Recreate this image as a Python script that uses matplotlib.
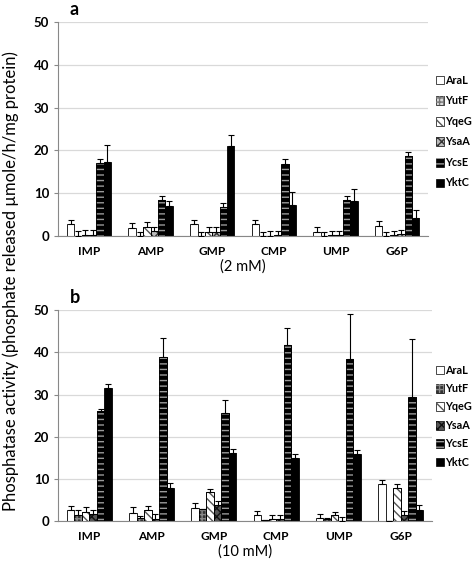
import numpy as np
import matplotlib.pyplot as plt

plt.rcParams['font.family'] = ['Lato', 'DejaVu Sans']

# data
substrates = ['IMP', 'AMP', 'GMP', 'CMP', 'UMP', 'G6P']
enzymes = ['AraL', 'YutF', 'YqeG', 'YsaA', 'YcsE', 'YktC']

# (2 mM)
a_AraL = [2.8, 1.8, 2.7, 2.7, 1.0, 2.4]
a_YutF = [0.1, 0.1, 0.1, 0.1, 0.1, 0.1]
a_YqeG = [0.3, 2.2, 1.0, 0.1, 0.2, 0.3]
a_YsaA = [0.3, 1.2, 1.0, 0.3, 0.2, 0.4]
a_YcsE = [17.0, 8.4, 6.7, 16.8, 8.5, 18.7]
a_YktC = [17.4, 7.1, 21.0, 7.3, 8.1, 4.3]
a_err_AraL = [1.0, 1.2, 1.1, 1.1, 1.0, 1.0]
a_err_YutF = [1.0, 0.9, 0.9, 0.9, 0.9, 0.9]
a_err_YqeG = [1.0, 1.1, 1.0, 1.0, 1.0, 0.9]
a_err_YsaA = [1.0, 0.9, 1.0, 0.9, 1.0, 1.0]
a_err_YcsE = [1.0, 1.0, 1.0, 1.2, 0.9, 1.0]
a_err_YktC = [3.9, 1.0, 2.7, 3.1, 3.0, 1.8]

# (10 mM)
b_AraL = [2.5, 2.0, 3.0, 1.3, 0.7, 8.8]
b_YutF = [1.5, 0.7, 2.8, 0.2, 0.4, 0.1]
b_YqeG = [2.2, 2.5, 6.8, 0.5, 1.3, 7.8]
b_YsaA = [1.6, 0.5, 3.8, 0.5, 0.1, 1.4]
b_YcsE = [26.2, 39.0, 25.6, 41.8, 38.4, 29.5]
b_YktC = [31.5, 7.8, 16.1, 14.9, 15.9, 2.6]
b_err_AraL = [1.0, 1.2, 1.2, 1.0, 1.0, 0.9]
b_err_YutF = [1.0, 0.5, 0.1, 0.0, 0.2, 0.0]
b_err_YqeG = [1.0, 1.0, 0.9, 0.9, 0.9, 0.9]
b_err_YsaA = [1.0, 1.1, 0.9, 0.9, 0.9, 0.9]
b_err_YcsE = [0.3, 4.3, 3.1, 4.0, 10.6, 13.6]
b_err_YktC = [0.9, 1.1, 0.9, 1.0, 0.9, 1.1]

vals_a = [a_AraL, a_YutF, a_YqeG, a_YsaA, a_YcsE, a_YktC]
errs_a = [a_err_AraL, a_err_YutF, a_err_YqeG, a_err_YsaA, a_err_YcsE, a_err_YktC]
vals_b = [b_AraL, b_YutF, b_YqeG, b_YsaA, b_YcsE, b_YktC]
errs_b = [b_err_AraL, b_err_YutF, b_err_YqeG, b_err_YsaA, b_err_YcsE, b_err_YktC]

# styles: (face, hatch, hatch colour)
styles_a = [('white', None, None),
            ('#d8d8d8', '++++', '#777777'),
            ('white', '\\\\\\\\', '#555555'),
            ('#bbbbbb', 'xxxx', '#333333'),
            ('black', '---', '#999999'),
            ('black', None, None)]
styles_b = [('white', None, None),
            ('#333333', '++++', '#888888'),
            ('white', '\\\\\\\\', '#555555'),
            ('#555555', 'xxxx', '#111111'),
            ('black', '---', '#999999'),
            ('black', None, None)]

fig = plt.figure(figsize=(4.73, 5.62), dpi=100)
ax_a = fig.add_axes([0.123, 0.580, 0.782, 0.381])
ax_b = fig.add_axes([0.123, 0.073, 0.790, 0.375])

x = np.arange(len(substrates))
w = 0.12


def draw(ax, vals, errs, styles, conc, letter, leg_y, leg_sp):
    for i in range(6):
        pos = x + (i - 2.5) * w
        face, hatch, hcol = styles[i]
        ax.bar(pos, vals[i], w, color=face, edgecolor='black', linewidth=0.6, zorder=2)
        if hatch:
            ax.bar(pos, vals[i], w, color='none', edgecolor=hcol, hatch=hatch,
                   linewidth=0, zorder=3)
            ax.bar(pos, vals[i], w, color='none', edgecolor='black', linewidth=0.6, zorder=4)
        ax.errorbar(pos, vals[i], yerr=[np.zeros(6), errs[i]], fmt='none',
                    ecolor='black', elinewidth=0.8, capsize=2.5, capthick=0.8, zorder=5)
    ax.set_ylim(0, 50)
    ax.set_yticks([0, 10, 20, 30, 40, 50])
    ax.set_xlim(-0.5, 5.5)
    ax.set_xticks(x)
    ax.set_xticklabels(substrates, fontsize=8.5, fontweight='bold')
    ax.tick_params(axis='x', length=0, pad=7)
    ax.tick_params(axis='y', labelsize=9.5, length=3, color='#888888', width=0.8)
    for lab in ax.get_yticklabels():
        lab.set_fontweight('bold')
    ax.yaxis.grid(True, color='#d9d9d9', linewidth=0.9, zorder=0)
    ax.set_axisbelow(True)
    for s in ['top', 'right']:
        ax.spines[s].set_visible(False)
    ax.spines['left'].set_color('#888888')
    ax.spines['bottom'].set_color('#888888')
    ax.set_xlabel(conc, fontsize=10.5, labelpad=2)
    ax.text(0.03, 1.02, letter, transform=ax.transAxes, fontsize=13,
            fontweight='bold', va='bottom')
    # legend
    for i in range(6):
        face, hatch, hcol = styles[i]
        yy = leg_y - i * leg_sp
        fig.patches.append(plt.Rectangle((0.922, yy - 0.008), 0.016, 0.016,
                                         transform=fig.transFigure, facecolor=face,
                                         edgecolor='black', linewidth=0.5))
        if hatch:
            fig.patches.append(plt.Rectangle((0.922, yy - 0.008), 0.016, 0.016,
                                             transform=fig.transFigure, facecolor='none',
                                             edgecolor=hcol, hatch=hatch, linewidth=0))
        fig.text(0.941, yy, enzymes[i], fontsize=7.8, fontweight='bold', va='center')


draw(ax_a, vals_a, errs_a, styles_a, '(2 mM)', 'a', 1 - 80 / 562, 20.6 / 562)
draw(ax_b, vals_b, errs_b, styles_b, '(10 mM)', 'b', 1 - 370 / 562, 18.4 / 562)

fig.text(0.022, 0.5, 'Phosphatase activity (phosphate released µmole/h/mg protein)',
         rotation=90, va='center', ha='center', fontsize=12)

fig.savefig('out.png', dpi=100)
